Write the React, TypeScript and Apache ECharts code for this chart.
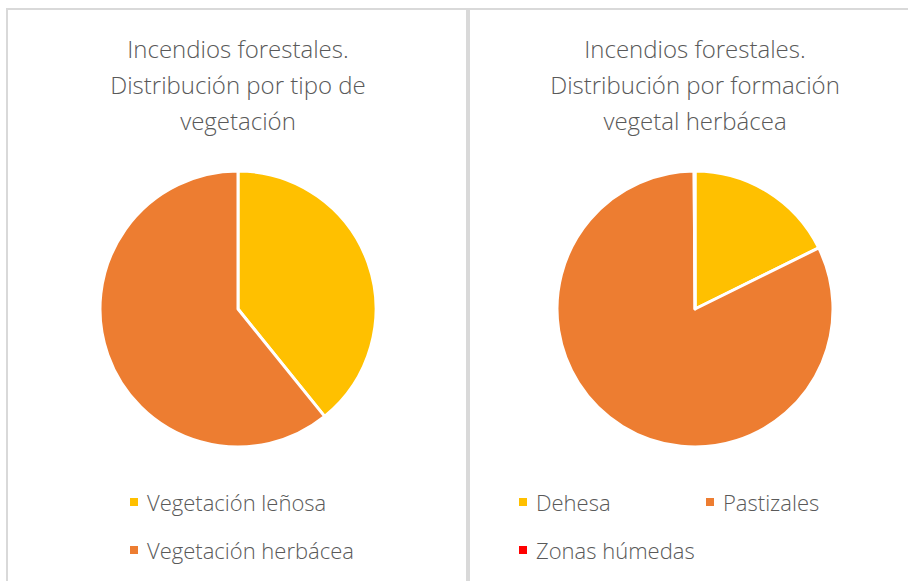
import React, { useEffect, useRef } from "react";
import * as echarts from "echarts";

const vegetationCategories = ["Vegetación leñosa", "Vegetación herbácea"];
const vegetationValues = [39.2, 60.8];
const herbCategories = ["Dehesa", "Pastizales", "Zonas húmedas"];
const herbValues = [17.7, 82.2, 0.1];
const titleLeft = "Incendios forestales.\nDistribución por tipo de\nvegetación";
const titleRight = "Incendios forestales.\nDistribución por formación\nvegetal herbácea";

const COLORS = ["#FFC000", "#ED7D31", "#FF0000"];
const FONT = "'Open Sans', 'Noto Sans', sans-serif";
const TEXT = "#595959";

export default function App() {
  const ref = useRef<HTMLDivElement>(null);
  useEffect(() => {
    document.body.style.margin = "0";
    document.body.style.overflow = "hidden";
    const chart = echarts.init(ref.current!, null, { renderer: "svg" });
    const titleStyle = { fontFamily: FONT, fontSize: 24, fontWeight: 300, color: TEXT, lineHeight: 36 };
    const legendBase = (names: string[], left: number, top: number) => ({
      data: names,
      left,
      top,
      orient: "vertical",
      icon: "rect",
      itemWidth: 10,
      itemHeight: 10,
      itemGap: 26,
      padding: 0,
      textStyle: { fontFamily: FONT, fontSize: 22, fontWeight: 300, color: TEXT, lineHeight: 22, padding: [0, 0, 0, 3] },
    });
    chart.setOption({
      animation: false,
      backgroundColor: "#ffffff",
      color: COLORS,
      graphic: [
        { type: "rect", shape: { x: 7, y: 9, width: 460, height: 600 }, style: { fill: "#fff", stroke: "#d9d9d9", lineWidth: 2 }, z: -10 },
        { type: "rect", shape: { x: 469, y: 9, width: 460, height: 600 }, style: { fill: "#fff", stroke: "#d9d9d9", lineWidth: 2 }, z: -10 },
      ],
      title: [
        { text: titleLeft, left: 238, top: 30, textAlign: "center", padding: 0, textStyle: titleStyle },
        { text: titleRight, left: 695, top: 30, textAlign: "center", padding: 0, textStyle: titleStyle },
      ],
      legend: [
        legendBase([vegetationCategories[0], vegetationCategories[1]], 128, 491),
        legendBase([herbCategories[0], herbCategories[2]], 517, 491),
        legendBase([herbCategories[1]], 704, 491),
      ],
      series: [
        {
          type: "pie",
          center: [238, 309],
          radius: 138,
          startAngle: 90,
          clockwise: true,
          label: { show: false },
          labelLine: { show: false },
          itemStyle: { borderColor: "#fff", borderWidth: 3 },
          emphasis: { disabled: true },
          data: vegetationCategories.map((n, i) => ({ name: n, value: vegetationValues[i], itemStyle: { color: COLORS[i] } })),
        },
        {
          type: "pie",
          center: [695, 309],
          radius: 138,
          startAngle: 90,
          clockwise: true,
          label: { show: false },
          labelLine: { show: false },
          itemStyle: { borderColor: "#fff", borderWidth: 3 },
          emphasis: { disabled: true },
          data: herbCategories.map((n, i) => ({ name: n, value: herbValues[i], itemStyle: { color: COLORS[i] } })),
        },
      ],
    });
    return () => chart.dispose();
  }, []);
  return <div ref={ref} style={{ width: 908, height: 581 }} />;
}
